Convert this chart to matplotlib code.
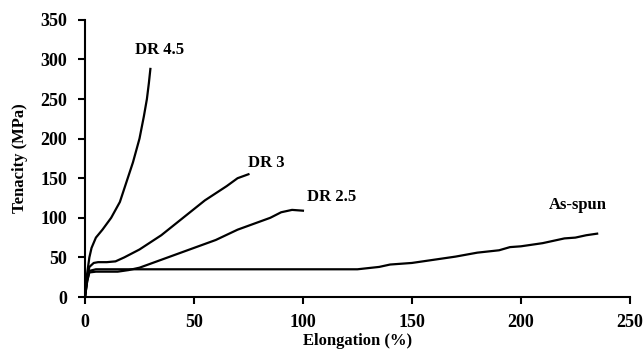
import matplotlib
matplotlib.use("Agg")
import matplotlib.pyplot as plt

plt.rcParams['font.family'] = ['Liberation Serif', 'DejaVu Serif']
plt.rcParams['font.weight'] = 'bold'

# courbes traction
dr45_x = [0, 1, 2, 3, 5, 8, 12, 16, 19, 22, 25, 27, 28.4, 29.3, 30]
dr45_y = [0, 30, 50, 62, 75, 85, 100, 120, 145, 170, 200, 228, 250, 270, 288]

dr3_x = [0, 1, 2, 4, 6, 10, 14, 18, 25, 35, 45, 55, 65, 70, 75]
dr3_y = [0, 25, 38, 43, 44, 44, 45, 50, 60, 78, 100, 122, 140, 150, 155]

dr25_x = [0, 1, 2, 5, 10, 15, 20, 25, 30, 40, 50, 60, 70, 80, 85, 90, 95, 100]
dr25_y = [0, 20, 31, 32, 32, 32, 34, 37, 42, 52, 62, 72, 85, 95, 100, 107, 110, 109]

spun_x = [0, 1, 2, 5, 20, 125, 135, 140, 150, 160, 170, 180, 190, 195, 200, 210, 215, 220, 225, 230, 235]
spun_y = [0, 20, 33, 35, 35, 35, 38, 41, 43, 47, 51, 56, 59, 63, 64, 68, 71, 74, 75, 78, 80]

labels = ["DR 4.5", "DR 3", "DR 2.5", "As-spun"]
label_x = [34, 83, 113, 226]
label_y = [312, 169, 126, 116]

fig = plt.figure(figsize=(6.44, 3.54), dpi=100)
ax = fig.add_axes([0.132, 0.161, 0.846, 0.783])

for xs, ys in [(dr45_x, dr45_y), (dr3_x, dr3_y), (dr25_x, dr25_y), (spun_x, spun_y)]:
    ax.plot(xs, ys, color="black", lw=1.6)

for t, x, y in zip(labels, label_x, label_y):
    ax.text(x, y, t, ha="center", va="center", fontsize=12, fontweight="bold")

ax.set_xlim(0, 250)
ax.set_ylim(0, 350)
ax.set_xticks(range(0, 251, 50))
ax.set_yticks(range(0, 351, 50))
ax.spines['top'].set_visible(False)
ax.spines['right'].set_visible(False)
ax.spines['left'].set_linewidth(1.5)
ax.spines['bottom'].set_linewidth(1.5)
ax.tick_params(direction="out", width=1.5, length=5, labelsize=13)
ax.tick_params(axis="x", pad=7)
ax.tick_params(axis="y", pad=8)
ax.set_xlabel("Elongation (%)", fontsize=12, fontweight="bold", labelpad=2)
ax.set_ylabel("Tenacity (MPa)", fontsize=12, fontweight="bold", labelpad=9)

fig.savefig("out.png", dpi=100)
